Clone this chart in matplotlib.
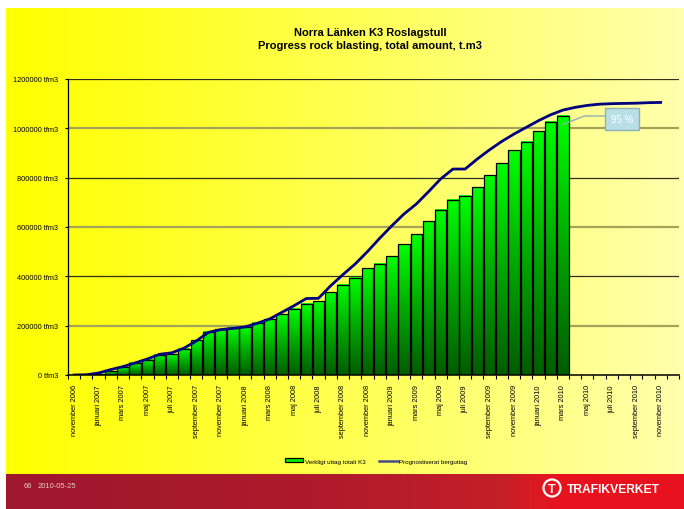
import numpy as np
import matplotlib
matplotlib.use("Agg")
import matplotlib.pyplot as plt
from matplotlib.colors import LinearSegmentedColormap
from matplotlib.patches import Patch, Circle
from matplotlib.lines import Line2D

plt.rcParams['font.family'] = ['Liberation Sans', 'DejaVu Sans']

# Months November 2006 .. December 2010
month_names = ['januari', 'februari', 'mars', 'april', 'maj', 'juni', 'juli',
               'augusti', 'september', 'oktober', 'november', 'december']
months = [f"{month_names[(10 + i) % 12]} {2006 + (10 + i) // 12}" for i in range(50)]

# Actual cumulative rock removal (tfm3), Nov 2006 .. Mar 2010
actual = [0, 0, 3000, 15000, 31000, 49000, 62000, 82000, 84000, 107000,
          141000, 176000, 186000, 191000, 196000, 212000, 227000, 247000, 268000, 288000,
          300000, 336000, 365000, 394000, 432000, 451000, 481000, 530000, 570000, 623000,
          669000, 711000, 726000, 762000, 810000, 859000, 912000, 946000, 989000, 1026000,
          1051000]

# Forecast cumulative rock removal (tfm3), Nov 2006 .. Nov 2010
forecast = [0, 1000, 8000, 22000, 34000, 49000, 65000, 84000, 90000, 109000,
            138000, 173000, 184000, 189000, 195000, 210000, 227000, 254000, 281000, 310000,
            311000, 362000, 407000, 450000, 500000, 554000, 605000, 653000, 693000, 743000,
            795000, 835000, 835000, 876000, 913000, 947000, 977000, 1004000, 1031000, 1055000,
            1074000, 1085000, 1093000, 1098000, 1100000, 1101000, 1102000, 1104000, 1105000]

yticks = [0, 200000, 400000, 600000, 800000, 1000000, 1200000]

W, H = 684, 510
fig = plt.figure(figsize=(W / 100, H / 100), dpi=100)

# slide background: yellow gradient with red footer band
bg = fig.add_axes([0, 0, 1, 1], zorder=-10)
bg.axis('off')
img = np.ones((H, W, 3))
t = np.linspace(0, 1, W)
img[9:475, 6:, 2] = (0.68 * t ** 1.1)[6:]
xs = np.arange(W)
stops = [0, 300, 500, 535, 560, W]
reds = np.array([[0.62, 0.09, 0.18], [0.68, 0.10, 0.17], [0.77, 0.12, 0.16],
                 [0.86, 0.10, 0.13], [0.91, 0.07, 0.12], [0.91, 0.07, 0.12]])
for c in range(3):
    img[475:, 6:, c] = np.interp(xs, stops, reds[:, c])[6:]
bg.imshow(img, extent=[0, W, H, 0], aspect='auto')
bg.set_xlim(0, W)
bg.set_ylim(H, 0)

ax = fig.add_axes([68 / W, 1 - 376 / H, 611 / W, 296 / H])
ax.patch.set_alpha(0)

x = np.arange(len(months))

# gridlines alternate olive / dark
for i, v in enumerate(yticks[1:]):
    if i % 2 == 0:
        ax.axhline(v, color='#a5a25a', lw=1.6, zorder=1)
    else:
        ax.axhline(v, color='#2f2f1e', lw=0.9, zorder=1)

bars = ax.bar(x[:len(actual)], actual, width=0.94, facecolor='none',
              edgecolor='black', linewidth=0.9, zorder=3)

green = LinearSegmentedColormap.from_list('grn', ['#005c00', '#00a800', '#00ff00'])
grad = np.linspace(0, 1, 256).reshape(-1, 1)
for rect in bars:
    x0, w, h = rect.get_x(), rect.get_width(), rect.get_height()
    if h <= 0:
        continue
    ax.imshow(grad, extent=[x0, x0 + w, 0, h], origin='lower', aspect='auto',
              cmap=green, zorder=2)

ax.plot(x[:len(forecast)], forecast, color='#000080', lw=2.0, zorder=4,
        solid_joinstyle='round')

ax.set_xlim(-0.5, len(months) - 0.5)
ax.set_ylim(0, 1200000)

ax.set_yticks(yticks)
ax.set_yticklabels([f"{v} tfm3" for v in yticks])
ax.tick_params(axis='y', length=2.5, width=0.8, pad=4.5, labelsize=5.3)

ax.set_xticks(np.arange(-0.5, len(months), 1))
ax.set_xticklabels([])
ax.set_xticks(x[::2], minor=True)
ax.set_xticklabels(months[::2], minor=True, rotation=90, fontsize=5.3)
ax.tick_params(axis='x', which='major', length=3, width=0.8)
ax.tick_params(axis='x', which='minor', length=0, pad=6.5)

for side in ['top', 'right']:
    ax.spines[side].set_visible(False)
ax.spines['left'].set_linewidth(0.9)
ax.spines['bottom'].set_linewidth(1.1)
ax.spines['bottom'].set_zorder(5)

# share of forecast reached
share = round(100 * actual[-1] / forecast[-1])
ax.annotate(f"{share} %", xy=(len(actual) - 1, actual[-1] - 36000),
            xytext=(44.85, 1038000), color='white', fontsize=7,
            ha='center', va='center', zorder=6,
            bbox=dict(boxstyle='square,pad=0.6', fc='#b9dfe6', ec='#8fb0b8', lw=1),
            arrowprops=dict(arrowstyle='-', color='#8fb0b8', lw=1, shrinkA=0, shrinkB=0,
                            relpos=(0, 0.8),
                            connectionstyle='angle,angleA=0,angleB=22,rad=0'))

handles = [Patch(facecolor='#00ee00', edgecolor='black', lw=0.9),
           Line2D([], [], color='#4a4a8a', lw=1.8)]
ax.legend(handles, ['Verkligt uttag totalt K3', 'Prognostiserat berguttag'],
          loc='center', bbox_to_anchor=(376 / W, 1 - 462 / H),
          bbox_transform=fig.transFigure, ncol=2, frameon=False, fontsize=4.5,
          handlelength=3, handleheight=0.6, handletextpad=0.2, columnspacing=2.2)

fig.text(370 / W, 1 - 39.5 / H,
         "Norra Länken K3 Roslagstull\nProgress rock blasting, total amount, t.m3",
         ha='center', va='center', fontsize=8, fontweight='bold',
         family=['Liberation Sans Narrow', 'Liberation Sans'], linespacing=1.35)

# footer
fig.text(24 / W, 1 - 487 / H, "66", color='#e8c8c8', fontsize=5.5, va='center')
fig.text(38 / W, 1 - 487 / H, "2010-05-25", color='#e8c8c8', fontsize=5.5, va='center')
bg.add_patch(Circle((552, 489), 8.5, fill=False, ec='white', lw=1.6))
bg.text(552, 490, "T", color='white', fontsize=9, fontweight='bold',
        ha='center', va='center')
bg.text(567, 490.5, "TRAFIKVERKET", color='white', fontsize=8.7, fontweight='bold',
        family=['Liberation Sans Narrow', 'Liberation Sans'], ha='left', va='center')

fig.savefig("out.png", dpi=100)
